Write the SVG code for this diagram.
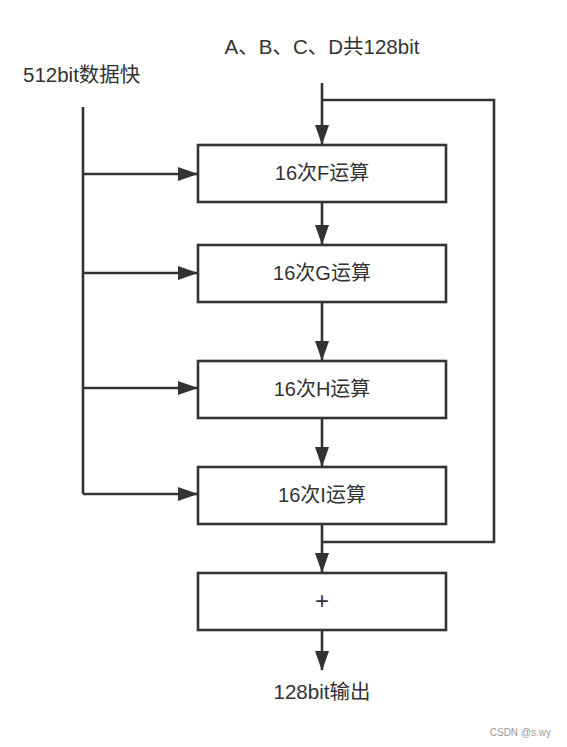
<svg xmlns="http://www.w3.org/2000/svg" width="567" height="747" viewBox="0 0 567 747">
<style>
.box{fill:#fff;stroke:#333;stroke-width:2.6}
.ln{fill:none;stroke:#333;stroke-width:2.6}
.t{font-family:"Liberation Sans","Noto Sans CJK SC",sans-serif;font-size:20px;fill:#333;text-anchor:middle}
.lb{font-family:"Liberation Sans","Noto Sans CJK SC",sans-serif;font-size:20.5px;fill:#333}
</style>
<defs>
<marker id="ah" markerUnits="userSpaceOnUse" markerWidth="20" markerHeight="14" refX="19" refY="7" orient="auto">
<path d="M0,0 L20,7 L0,14 Z" fill="#333"/>
</marker>
</defs>
<rect width="567" height="747" fill="#fff"/>
<g id="connectors">
<line class="ln" x1="322" y1="83" x2="322" y2="144" marker-end="url(#ah)"/>
<polyline class="ln" points="322,100 494,100 494,542 322,542"/>
<line class="ln" x1="83" y1="107" x2="83" y2="494"/>
<line class="ln" x1="83" y1="174" x2="197" y2="174" marker-end="url(#ah)"/>
<line class="ln" x1="83" y1="273" x2="197" y2="273" marker-end="url(#ah)"/>
<line class="ln" x1="83" y1="388" x2="197" y2="388" marker-end="url(#ah)"/>
<line class="ln" x1="83" y1="494" x2="197" y2="494" marker-end="url(#ah)"/>
<line class="ln" x1="322" y1="202" x2="322" y2="244" marker-end="url(#ah)"/>
<line class="ln" x1="322" y1="302" x2="322" y2="360" marker-end="url(#ah)"/>
<line class="ln" x1="322" y1="418" x2="322" y2="466" marker-end="url(#ah)"/>
<line class="ln" x1="322" y1="524" x2="322" y2="572" marker-end="url(#ah)"/>
<line class="ln" x1="322" y1="630" x2="322" y2="670" marker-end="url(#ah)"/>
</g>
<g id="label-abcd"><text class="lb" x="322" y="54" text-anchor="middle">A、B、C、D共128bit</text></g>
<g id="label-512"><text class="lb" x="23" y="82">512bit数据快</text></g>
<g id="node-f"><rect class="box" x="198" y="145" width="248" height="57"/><text class="t" x="322" y="180">16次F运算</text></g>
<g id="node-g"><rect class="box" x="198" y="245" width="248" height="57"/><text class="t" x="322" y="280">16次G运算</text></g>
<g id="node-h"><rect class="box" x="198" y="361" width="248" height="57"/><text class="t" x="322" y="396">16次H运算</text></g>
<g id="node-i"><rect class="box" x="198" y="467" width="248" height="57"/><text class="t" x="322" y="502">16次I运算</text></g>
<g id="node-plus"><rect class="box" x="198" y="573" width="248" height="57"/><text class="t" x="322" y="609" style="font-size:24px">+</text></g>
<g id="label-out"><text class="lb" x="322" y="699" text-anchor="middle">128bit输出</text></g>
<g id="watermark"><text x="551" y="736" text-anchor="end" font-family="'Liberation Sans',sans-serif" font-size="10" fill="#999">CSDN @s.wy</text></g>
</svg>
